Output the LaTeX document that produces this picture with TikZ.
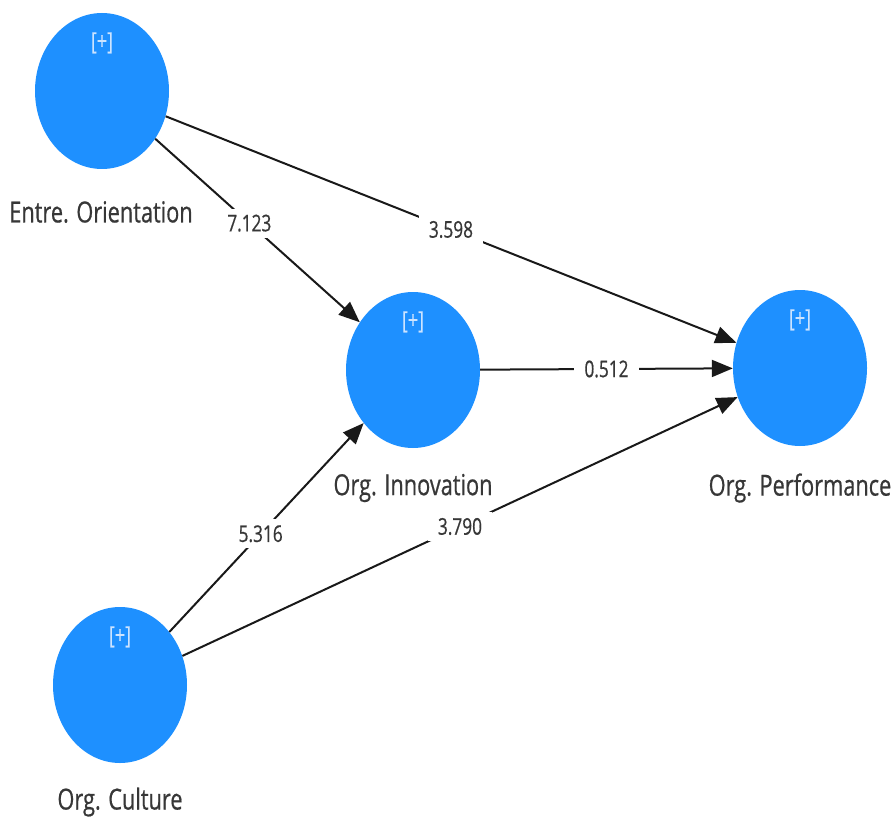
\documentclass[tikz,border=0pt]{standalone}
\usepackage{fontspec}
\setmainfont{Open Sans}
\newfontfamily\narrowfont[FakeStretch=0.75, FakeBold=0.6]{Open Sans}
\usetikzlibrary{arrows.meta,shapes.geometric}
\definecolor{lvblue}{RGB}{30,144,255}
\definecolor{lvtext}{RGB}{55,55,55}
\definecolor{lvplus}{RGB}{205,228,255}
\tikzset{
	latent/.style={ellipse, fill=lvblue, minimum width=134pt, minimum height=156pt, inner sep=0pt},
	plusmark/.style={text=lvplus, font=\narrowfont\fontsize{24}{26}\selectfont},
	lvname/.style={text=lvtext, font=\narrowfont\fontsize{29}{32}\selectfont},
	coef/.style={fill=white, text=lvtext, inner xsep=10pt, inner ysep=6pt, font=\narrowfont\fontsize{23}{25}\selectfont},
	lvpath/.style={line width=2pt, draw=black!90, -{Triangle[length=21pt, width=17pt]}}
}

\begin{document}
\begin{tikzpicture}[x=1pt, y=-1pt]
			%%%%% START %%%%%
			\useasboundingbox (0, 0) rectangle (893, 818);
			
			\node[latent] (eo) at (102, 91) {};
			\node[latent] (oi) at (413, 370) {};
			\node[latent] (op) at (800, 368) {};
			\node[latent] (oc) at (120, 685) {};
			
			\node[plusmark] (eo-plus) at ([yshift=-30pt]eo.north) {[+]};
			\node[plusmark] (oi-plus) at ([yshift=-30pt]oi.north) {[+]};
			\node[plusmark] (op-plus) at ([yshift=-30pt]op.north) {[+]};
			\node[plusmark] (oc-plus) at ([yshift=-30pt]oc.north) {[+]};
			
			\node[lvname] (eo-name) at (101, 212) {Entre. Orientation};
			\node[lvname] (oi-name) at (413, 488) {Org. Innovation};
			\node[lvname] (op-name) at (800, 488) {Org. Performance};
			\node[lvname] (oc-name) at (120, 802) {Org. Culture};
			
			\draw[lvpath] (eo) -- node[coef, pos=0.5] (c1) {3.598} (op);
			\draw[lvpath] (eo) -- node[coef, pos=0.46] (c2) {7.123} (oi);
			\draw[lvpath] (oi) -- node[coef, pos=0.5] (c3) {0.512} (op);
			\draw[lvpath] (oc) -- node[coef, pos=0.47] (c4) {5.316} (oi);
			\draw[lvpath] (oc) -- node[coef, pos=0.5] (c5) {3.790} (op);
			
			%%%%% END %%%%%
\end{tikzpicture}
\end{document}
